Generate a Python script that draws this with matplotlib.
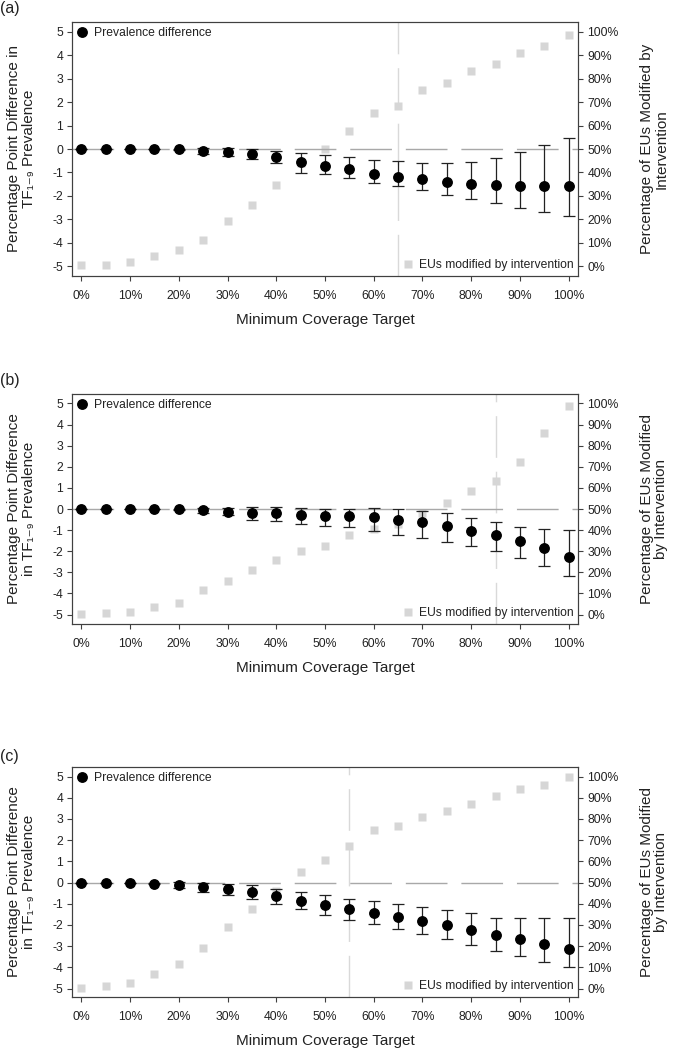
import matplotlib
matplotlib.use('Agg')
import matplotlib.pyplot as plt
from matplotlib.lines import Line2D

plt.rcParams['font.family'] = ['Liberation Sans', 'DejaVu Sans']

targets = [0, 5, 10, 15, 20, 25, 30, 35, 40, 45, 50, 55, 60, 65, 70, 75, 80, 85, 90, 95, 100]
x_ticks = [0, 10, 20, 30, 40, 50, 60, 70, 80, 90, 100]
x_ticklabels = ['0%', '10%', '20%', '30%', '40%', '50%', '60%', '70%', '80%', '90%', '100%']
y_ticks = [-5, -4, -3, -2, -1, 0, 1, 2, 3, 4, 5]
r_ticks = [0, 10, 20, 30, 40, 50, 60, 70, 80, 90, 100]
r_ticklabels = ['0%', '10%', '20%', '30%', '40%', '50%', '60%', '70%', '80%', '90%', '100%']

# Panel (a)
a_diff = [0, 0, 0, 0, -0.02, -0.07, -0.13, -0.23, -0.36, -0.57, -0.73, -0.87, -1.05, -1.18, -1.29, -1.39, -1.48, -1.55, -1.58, -1.58, -1.58]
a_hi = [0, 0, 0, 0, 0.02, 0.04, 0.04, 0.01, -0.10, -0.19, -0.26, -0.34, -0.46, -0.53, -0.60, -0.60, -0.55, -0.40, -0.14, 0.16, 0.48]
a_lo = [0, 0, 0, 0, -0.06, -0.21, -0.31, -0.44, -0.61, -1.02, -1.05, -1.25, -1.44, -1.59, -1.76, -1.95, -2.12, -2.30, -2.52, -2.70, -2.87]
a_mod = [0.3, 0.6, 1.6, 4.3, 7.0, 11.1, 19.2, 25.9, 34.8, 44, 50, 57.5, 65.4, 68.5, 75, 78.1, 83.1, 86.2, 90.8, 93.9, 98.7]
a_cut = 65

# Panel (b)
b_diff = [0, 0, 0, -0.01, -0.02, -0.06, -0.14, -0.17, -0.21, -0.29, -0.32, -0.32, -0.39, -0.50, -0.63, -0.79, -1.03, -1.25, -1.53, -1.87, -2.26]
b_hi = [0, 0, 0, 0, 0.01, 0.03, 0.05, 0.08, 0.08, 0.03, 0, 0, 0.04, 0, -0.08, -0.21, -0.41, -0.60, -0.84, -0.93, -1.01]
b_lo = [0, 0, 0, -0.02, -0.05, -0.17, -0.30, -0.51, -0.59, -0.72, -0.80, -0.87, -1.03, -1.21, -1.38, -1.58, -1.77, -2.01, -2.31, -2.72, -3.19]
b_mod = [0.2, 0.8, 1.4, 3.6, 5.5, 11.4, 16.1, 21.2, 25.9, 30.2, 32.6, 37.5, 40.7, 43, 48, 52.7, 58.7, 63.1, 72.2, 86.2, 99]
b_cut = 85

# Panel (c)
c_diff = [0, 0, 0, -0.05, -0.11, -0.19, -0.31, -0.44, -0.65, -0.88, -1.07, -1.23, -1.42, -1.62, -1.83, -2.02, -2.22, -2.46, -2.65, -2.91, -3.15]
c_hi = [0, 0, 0, 0, 0.03, 0, -0.05, -0.14, -0.30, -0.44, -0.60, -0.76, -0.87, -1.02, -1.15, -1.31, -1.42, -1.65, -1.67, -1.67, -1.65]
c_lo = [0, 0, 0, -0.08, -0.28, -0.43, -0.60, -0.80, -1.02, -1.26, -1.54, -1.75, -1.97, -2.20, -2.41, -2.68, -2.93, -3.21, -3.46, -3.75, -4.00]
c_mod = [0.3, 1.3, 2.8, 6.9, 11.5, 18.9, 28.8, 37.3, 46, 54.8, 60.8, 67.4, 74.6, 76.7, 80.8, 83.6, 86.9, 90.9, 93.9, 95.9, 99.8]
c_cut = 55

panel_labels = ['(a)', '(b)', '(c)']
left_labels = ['Percentage Point Difference in\nTF\u2081\u208b\u2089 Prevalence',
               'Percentage Point Difference\nin TF\u2081\u208b\u2089 Prevalence',
               'Percentage Point Difference\nin TF\u2081\u208b\u2089 Prevalence']
right_labels = ['Percentage of EUs Modified by\nIntervention',
                'Percentage of EUs Modified\nby Intervention',
                'Percentage of EUs Modified\nby Intervention']
x_label = 'Minimum Coverage Target'

W, H = 676, 1049
fig = plt.figure(figsize=(W / 100, H / 100), dpi=100)

# pixel boxes (left, top, right, bottom)
boxes = [(72, 22, 578, 276), (72, 394, 578, 624), (72, 767, 578, 997)]
ylims = [(-5.42, 5.42), (-5.45, 5.45), (-5.4, 5.45)]
label_y = [8, 380, 757]

spine_c = '#404040'
txt_c = '#222222'
grey_sq = '#d6d6d6'

data = [(a_diff, a_lo, a_hi, a_mod, a_cut),
        (b_diff, b_lo, b_hi, b_mod, b_cut),
        (c_diff, c_lo, c_hi, c_mod, c_cut)]

for i, (box, (diff, lo, hi, mod, cut)) in enumerate(zip(boxes, data)):
    l, t, r, b = box
    ax = fig.add_axes([l / W, 1 - b / H, (r - l) / W, (b - t) / H])
    ax2 = ax.twinx()
    ax.set_zorder(ax2.get_zorder() + 1)
    ax.patch.set_visible(False)

    ax.set_xlim(-1.9, 101.9)
    ax.set_ylim(*ylims[i])
    ax2.set_ylim((ylims[i][0] + 5) * 10, (ylims[i][1] + 5) * 10)

    # grey squares
    ax2.plot(targets, mod, ls='none', marker='s', ms=5.2, color=grey_sq, mec='none', zorder=2)
    ax2.axvline(cut, color='#d9d9d9', lw=1.0, dashes=(30, 10), zorder=1)

    ax.axhline(0, color='#a8a8a8', lw=1.0, dashes=(30, 10), zorder=1)

    yerr = [[d - lo_ for d, lo_ in zip(diff, lo)], [hi_ - d for d, hi_ in zip(diff, hi)]]
    ax.errorbar(targets, diff, yerr=yerr, fmt='none', ecolor='#222222', elinewidth=0.9,
                capsize=4.2, capthick=0.9, zorder=3)
    ax.plot(targets, diff, ls='none', marker='o', ms=6.8, color='black', zorder=4)

    ax.set_xticks(x_ticks)
    ax.set_xticklabels(x_ticklabels)
    ax.set_yticks(y_ticks)
    ax.set_yticklabels([str(v) for v in y_ticks])
    ax2.set_yticks(r_ticks)
    ax2.set_yticklabels(r_ticklabels)

    for a_ in (ax, ax2):
        for s in a_.spines.values():
            s.set_color(spine_c)
            s.set_linewidth(0.8)
        a_.tick_params(colors=spine_c, labelcolor=txt_c, labelsize=8.8, length=3.8, width=0.8)
    ax.tick_params(axis='y', pad=2.5)
    ax2.tick_params(axis='y', pad=3)
    ax.tick_params(axis='x', pad=6)

    ax.set_ylabel(left_labels[i], fontsize=11, color=txt_c, linespacing=1.05)
    ax.yaxis.set_label_coords(-0.072, 0.5)
    ax2.set_ylabel(right_labels[i], fontsize=11, color=txt_c, linespacing=1.05)
    ax2.yaxis.set_label_coords(1.122, 0.5)
    ax.set_xlabel(x_label, fontsize=11, color=txt_c, labelpad=8)

    h1 = Line2D([], [], ls='none', marker='o', ms=6.8, color='black')
    leg1 = ax.legend([h1], ['Prevalence difference'], loc='upper left', frameon=False,
                     fontsize=8.7, handlelength=0.8, handletextpad=0.55, borderaxespad=0.25,
                     borderpad=0.2)
    for tx in leg1.get_texts():
        tx.set_color(txt_c)
    h2 = Line2D([], [], ls='none', marker='s', ms=5.2, color=grey_sq, mec='none')
    leg2 = ax2.legend([h2], ['EUs modified by intervention'], loc='lower right', frameon=False,
                      fontsize=8.7, handlelength=0.8, handletextpad=0.5, borderaxespad=0.2,
                      borderpad=0.2)
    for tx in leg2.get_texts():
        tx.set_color(txt_c)

    fig.text(0 / W, 1 - label_y[i] / H, panel_labels[i], fontsize=11.5, color=txt_c,
             ha='left', va='center')

fig.savefig('out.png', dpi=100)
